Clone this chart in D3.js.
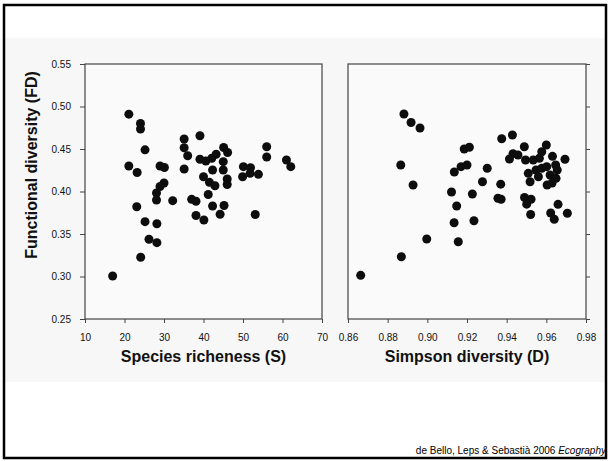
<!DOCTYPE html>
<html>
<head>
<meta charset="utf-8">
<script src="https://cdn.jsdelivr.net/npm/d3@7/dist/d3.min.js"></script>
<style>
  html, body { margin: 0; padding: 0; background: #fff; }
  svg { display: block; }
  text { font-family: Arial, "Liberation Sans", sans-serif; }
</style>
</head>
<body>
<svg id="chart" width="610" height="461"></svg>
<script>
// Functional diversity (FD) against species richness (S)
const richness = [21.1, 24.05, 24.05, 25.2, 21.1, 23.2, 29.0, 30.1, 30.0, 29.0,
  28.1, 28.1, 32.2, 23.1, 25.2, 28.2, 26.2, 28.2, 24.1, 17.0,
  35.1, 39.1, 35.1, 36.0, 35.1, 39.1, 40.6, 42.1, 43.2, 45.1,
  46.1, 45.0, 42.3, 45.0, 40.0, 41.5, 42.9, 46.0, 46.0, 50.1,
  51.9, 49.9, 51.8, 53.9, 56.0, 56.0, 61.0, 62.1, 37.0, 38.1,
  41.2, 42.3, 45.2, 38.1, 40.1, 44.2, 53.1];
const fdByRichness = [0.491, 0.480, 0.4735, 0.449, 0.430, 0.4224, 0.430, 0.4282, 0.410, 0.4059,
  0.3982, 0.390, 0.3892, 0.3821, 0.3645, 0.3621, 0.3438, 0.3398, 0.3226, 0.3006,
  0.4618, 0.4656, 0.4515, 0.4421, 0.4265, 0.4379, 0.4359, 0.4391, 0.4438, 0.4518,
  0.4459, 0.4351, 0.4253, 0.4253, 0.4174, 0.4108, 0.4068, 0.4147, 0.4082, 0.4292,
  0.4280, 0.4174, 0.4214, 0.4202, 0.4527, 0.4406, 0.4371, 0.4292, 0.3908, 0.3885,
  0.3965, 0.3829, 0.3835, 0.3718, 0.3665, 0.3732, 0.3729];

// Functional diversity (FD) against Simpson diversity (D)
const simpson = [0.8882, 0.8918, 0.8963, 0.8866, 0.8928, 0.9186, 0.9212, 0.9170, 0.9200, 0.9136,
  0.9302, 0.9278, 0.9370, 0.9122, 0.9227, 0.9148, 0.9135, 0.9235, 0.8997, 0.9156,
  0.8869, 0.8664, 0.9375, 0.9429, 0.9489, 0.9432, 0.9457, 0.9414, 0.9577, 0.9600,
  0.9495, 0.9534, 0.9565, 0.9631, 0.9694, 0.9509, 0.9548, 0.9577, 0.9602, 0.9647,
  0.9655, 0.9619, 0.9560, 0.9518, 0.9604, 0.9629, 0.9649, 0.9356, 0.9372, 0.9490,
  0.9523, 0.9501, 0.9521, 0.9659, 0.9622, 0.9640, 0.9706];
const fdBySimpson = [0.4912, 0.4812, 0.4747, 0.4312, 0.4076, 0.450, 0.452, 0.4292, 0.4312, 0.4229,
  0.4273, 0.4115, 0.4086, 0.3994, 0.3971, 0.3829, 0.3633, 0.3656, 0.3441, 0.3409,
  0.3233, 0.3014, 0.4621, 0.4665, 0.4527, 0.4445, 0.4429, 0.4382, 0.4468, 0.4547,
  0.4371, 0.4371, 0.4391, 0.4414, 0.4380, 0.4214, 0.4253, 0.4273, 0.4292, 0.4312,
  0.4253, 0.4194, 0.4174, 0.4115, 0.4076, 0.410, 0.4155, 0.3920, 0.3909, 0.3929,
  0.3909, 0.3851, 0.3729, 0.3849, 0.3747, 0.3673, 0.3744];

// Axis ticks and labels
const fdTicks = [0.25, 0.30, 0.35, 0.40, 0.45, 0.50, 0.55];
const richnessTicks = [10, 20, 30, 40, 50, 60, 70];
const simpsonTicks = [0.86, 0.88, 0.90, 0.92, 0.94, 0.96, 0.98];
const yTitle = "Functional diversity (FD)";
const xTitleLeft = "Species richeness (S)";
const xTitleRight = "Simpson diversity (D)";
const credit = "de Bello, Leps & Sebastià 2006 ";
const creditJournal = "Ecography";

const svg = d3.select("#chart");

// slide backdrop and figure area
svg.append("rect").attr("x", 4).attr("y", 38).attr("width", 602).attr("height", 344)
  .attr("fill", "#f7f7f7");
svg.append("rect").attr("x", 4).attr("y", 5).attr("width", 602).attr("height", 453)
  .attr("fill", "none").attr("stroke", "#000").attr("stroke-width", 2.5);

const plotTop = 64, plotBottom = 319;
const y = d3.scaleLinear().domain([0.25, 0.55]).range([plotBottom, plotTop]);
const xL = d3.scaleLinear().domain([10, 70]).range([85, 322]);
const xR = d3.scaleLinear().domain([0.86, 0.98]).range([348, 586]);

const axisColor = "#444";
const labelColor = "#111";

function styleAxis(g) {
  g.select(".domain").remove();
  g.selectAll(".tick line").attr("stroke", axisColor).attr("stroke-width", 1);
  g.selectAll(".tick text").attr("fill", labelColor).attr("font-size", 10)
    .attr("font-family", "Arial, 'Liberation Sans', sans-serif");
}

function panel(x, xTicks, xFmt, xs, ys, yOnRight, title) {
  const [x0, x1] = x.range();
  svg.append("rect").attr("x", x0).attr("y", plotTop).attr("width", x1 - x0).attr("height", plotBottom - plotTop)
    .attr("fill", "#fafafa").attr("stroke", axisColor).attr("stroke-width", 1.2);

  svg.append("g").attr("transform", `translate(0,${plotBottom})`)
    .call(d3.axisBottom(x).tickValues(xTicks).tickFormat(xFmt).tickSize(4).tickPadding(10.5))
    .call(styleAxis);

  if (yOnRight) {
    svg.append("g").attr("transform", `translate(${x1},0)`)
      .call(d3.axisRight(y).tickValues(fdTicks).tickSize(4).tickFormat(""))
      .call(styleAxis);
  } else {
    svg.append("g").attr("transform", `translate(${x0},0)`)
      .call(d3.axisLeft(y).tickValues(fdTicks).tickFormat(d3.format(".2f")).tickSize(5).tickPadding(9))
      .call(styleAxis);
  }

  svg.append("g").selectAll("circle").data(xs).join("circle")
    .attr("cx", d => x(d))
    .attr("cy", (d, i) => y(ys[i]))
    .attr("r", 4.5)
    .attr("fill", "#0d0d0d");

  svg.append("text").attr("x", (x0 + x1) / 2).attr("y", 362)
    .attr("text-anchor", "middle").attr("font-size", 16).attr("font-weight", "bold")
    .attr("fill", "#111").text(title);
}

panel(xL, richnessTicks, d3.format("d"), richness, fdByRichness, false, xTitleLeft);
panel(xR, simpsonTicks, d3.format(".2f"), simpson, fdBySimpson, true, xTitleRight);

svg.append("text").attr("transform", "translate(37,165) rotate(-90)")
  .attr("text-anchor", "middle").attr("font-size", 16).attr("font-weight", "bold")
  .attr("fill", "#111").text(yTitle);

const cap = svg.append("text").attr("x", 606).attr("y", 454)
  .attr("text-anchor", "end").attr("font-size", 10).attr("fill", "#000");
cap.append("tspan").text(credit);
cap.append("tspan").attr("font-style", "italic").text(creditJournal);
</script>
</body>
</html>
